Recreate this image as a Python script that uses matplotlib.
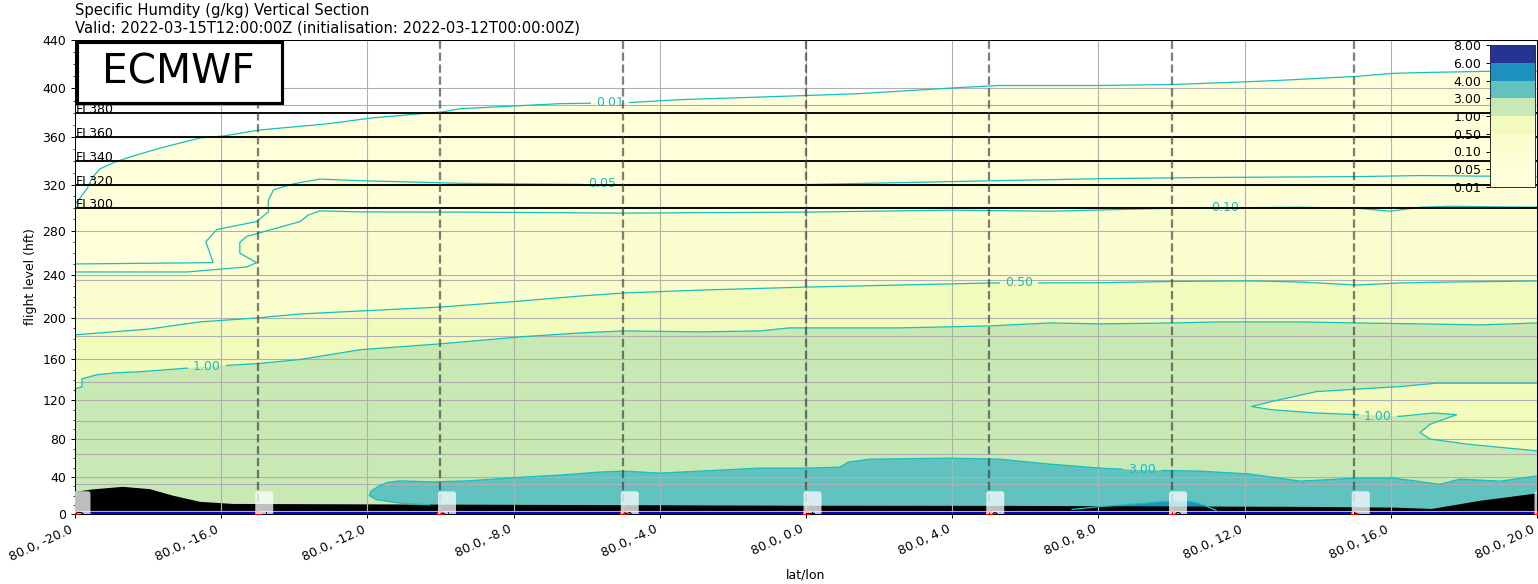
import numpy as np
import matplotlib
matplotlib.use("Agg")
import matplotlib.pyplot as plt
import matplotlib.colors as mcolors
import matplotlib.cm as cm
import matplotlib.transforms as mtransforms
from matplotlib.path import Path
from matplotlib.patches import Rectangle
from matplotlib.ticker import MultipleLocator

# section along 80N, humidity contours as (lon, flight level) boundaries
section_lat = 80.0
levels = [0.01, 0.05, 0.1, 0.5, 1.0, 3.0, 4.0, 6.0, 8.0]

q001_lon = [-20, -19.95, -19.67, -19.53, -19.32, -18.9, -18.41, -17.67, -16.58, -15.95, -14.94, -13.11,
            -11.85, -9.93, -9.47, -8.37, -6.73, -4.9, -3.45, 0.0, 1.48, 4.21, 5.31, 8.04, 10.04, 11.6,
            12.97, 15.07, 16.06, 17.07, 18.71, 20]
q001_fl = [303, 304.7, 316.6, 325.8, 333.3, 339.2, 344.2, 350.8, 359.2, 360.8, 365.8, 370.8,
           375.8, 380.8, 383.3, 385, 387.5, 388.3, 390.8, 394.2, 395.8, 400.8, 402.5, 402.5, 403.3, 405,
           406.7, 410, 412.5, 413.3, 414.2, 414.2]

q005_lon = [-20, -16.22, -16.42, -16.12, -15.03, -14.71, -14.71, -14.57, -14.03, -13.3, -12.2, -9.47,
            -5.64, 0.0, 5.31, 8.04, 10.78, 15.07, 16.8, 20]
q005_fl = [250, 251.2, 270, 280.9, 287.9, 296.4, 306.4, 315.5, 320.6, 324.7, 323.3, 321.1,
           320, 320, 323.4, 325, 326, 326.8, 327.7, 326.8]

q01_lon = [-20, -16.94, -15.3, -15.03, -15.49, -15.49, -15.3, -13.84, -13.62, -13.3, -12.2, -9.47,
           -5.0, 0.0, 3.94, 6.68, 10.04, 13.52, 15.07, 15.98, 16.8, 17.62, 20]
q01_fl = [242.7, 242.7, 247.3, 251.2, 259.7, 269.4, 274.8, 287.9, 293.6, 297.3, 296.4, 296.2,
          295.3, 296.2, 297.9, 297.0, 299.6, 300.4, 299.6, 297.0, 300.4, 301.3, 300.4]

q05_lon = [-20, -17.95, -16.58, -15.0, -13.84, -12.2, -10.0, -7.82, -6.18, -5.0, -2.9, 0.0, 2.57,
           5.06, 8.04, 10.04, 12.15, 13.52, 15.07, 16.25, 17.62, 20]
q05_fl = [183.8, 189.5, 196.2, 200, 203.7, 206.5, 210.2, 215.8, 220.5, 223.3, 226, 228.8, 230.7,
          232.6, 232.8, 234, 234.5, 233.5, 230.7, 232.6, 233.5, 234.4]

q1_lon = [-20, -19.81, -19.81, -19.4, -18.85, -18.22, -17.13, -16.4, -15.0, -13.84, -12.2, -10.0,
          -7.82, -6.18, -5.0, -2.9, -1.26, -0.46, 2.57, 5.06, 6.68, 8.04, 10.04, 11.33, 13.52,
          15.07, 16.8, 18.44, 20]
q1_fl = [131, 133, 141, 145, 147, 148, 151, 153, 156, 160, 169.5, 175.2,
         181.9, 185.7, 187.6, 186.7, 187.6, 190.5, 190.5, 192.4, 195.2, 194.3, 195.2, 196.2, 196.2,
         195.2, 194.3, 193.3, 195.2]

# drier tongue (< 1 g/kg) at the east end, upper edge then lower edge
tongue_lon = [20, 17.26, 16.25, 13.97, 12.74, 12.19, 12.74, 13.97, 15.07, 16.25, 17.16, 17.8,
              17.07, 16.8, 17.07, 18.08, 18.99, 20]
tongue_fl = [136.7, 136.7, 133.3, 128.3, 118.3, 113.3, 110, 106.7, 105, 103.3, 106.7, 105,
             95, 86.7, 80, 74.7, 71.3, 67.7]

q3_lon = [-10.3, -11.11, -11.75, -11.95, -11.9, -11.7, -11.47, -11.11, -10.2, -9.28, -7.82, -6.73,
          -5.64, -4.98, -4.0, -2.9, -1.26, 0.03, 0.93, 1.15, 1.75, 3.94, 5.31, 6.68, 8.04, 9.14,
          10.78, 12.15, 13.52, 15.07, 16.06, 16.71, 17.34, 17.89, 18.99, 20]
q3_fl = [10, 11.9, 15.6, 20, 25, 30, 34.1, 35.9, 34.8, 35.9, 39.7, 42.1,
         45.3, 46.3, 44.2, 46.3, 49.5, 49.5, 50.5, 55.8, 58.9, 60, 58.9, 53.7, 49.5, 47.4,
         46.3, 43.2, 35.6, 38.9, 38.9, 35.6, 32.2, 37.8, 35.6, 41.1]

q4_lon = [7.28, 8.0, 9.06, 9.82, 10.37, 10.67, 10.94, 11.22]
q4_fl = [5, 8, 11.1, 13.8, 14.4, 12.7, 8.9, 3.9]

terrain_lon = [-20, -19.53, -18.69, -17.95, -17.32, -16.58, -15.68, -7.82, 0.0, 5.31, 13.52,
               16.11, 17.12, 18.44, 19.92, 20]
terrain_fl = [24, 26.7, 29.5, 27, 20, 13.3, 11, 10, 9, 8.9, 7.8, 7.0, 5.5, 14.4, 22, 22.5]

# contour labels: text, lon, flight level
clabel_text = ["0.01", "0.05", "0.10", "0.50", "1.00", "1.00", "3.00"]
clabel_lon = [-5.36, -5.58, 11.46, 5.84, -16.39, 15.65, 9.19]
clabel_fl = [388.7, 320.5, 299.8, 233, 153, 103.5, 48.4]

# route and waypoints
wp_lon = [-20, -15, -10, -5, 0, 5, 10, 15, 20]
wp_name = ["0", "1", "2", "3", "4", "5", "6", "7", "8"]
route_fl = [1, 1, 1, 1, 1, 1, 1, 1, 1]

fl_lines = [300, 320, 340, 360, 380]
pressure_grid = [1000, 900, 800, 700, 600, 500, 400, 300, 200]
lon_ticks = [-20, -16, -12, -8, -4, 0, 4, 8, 12, 16, 20]
fl_ticks = [0, 40, 80, 120, 160, 200, 240, 280, 320, 360, 400, 440]

line_col = "#17bfbf"


def fl_to_p(fl):
    """ISA pressure (hPa) for a flight level"""
    h = np.asarray(fl, dtype=float) * 30.48
    with np.errstate(invalid="ignore", over="ignore", divide="ignore"):
        tropo = 1013.25 * np.clip(1 - 2.25577e-5 * h, 1e-9, None) ** 5.25588
        strato = 226.32 * np.exp(-(h - 11000.0) / 6341.6)
    return np.where(h < 11000.0, tropo, strato)


def p_to_fl(p):
    p = np.asarray(p, dtype=float)
    with np.errstate(invalid="ignore", over="ignore", divide="ignore"):
        tropo = (1 - (p / 1013.25) ** (1 / 5.25588)) / 2.25577e-5
        strato = 11000.0 - 6341.6 * np.log(p / 226.32)
    return np.where(p > 226.32, tropo, strato) / 30.48


def fwd(fl):
    return -np.log(fl_to_p(fl))


def inv(v):
    return p_to_fl(np.exp(-np.asarray(v, dtype=float)))


fig = plt.figure(figsize=(1538 / 90, 584 / 90), dpi=90)
ax = fig.add_axes([75 / 1538, 1 - 514 / 584, 1462 / 1538, 474 / 584])
ax.set_yscale("function", functions=(fwd, inv))
ax.set_xlim(-20, 20)
ax.set_ylim(0, 440)

# band colours as contourf would pick them
mids = [(a + b) / 2 for a, b in zip(levels[:-1], levels[1:])]
band_col = plt.get_cmap("YlGnBu")(mcolors.Normalize(levels[0], levels[-1])(mids))


def fill_below(lon, fl, color):
    ax.fill(list(lon) + [lon[-1], lon[0]], list(fl) + [0, 0], color=color, lw=0, zorder=1)


fill_below(q001_lon, q001_fl, band_col[0])
fill_below(q005_lon, q005_fl, band_col[1])
fill_below(q01_lon, q01_fl, band_col[2])
fill_below(q05_lon, q05_fl, band_col[3])
fill_below(q1_lon, q1_fl, band_col[4])
ax.fill(tongue_lon, tongue_fl, color=band_col[3], lw=0, zorder=1)
fill_below(q3_lon, q3_fl, band_col[5])
fill_below(q4_lon, q4_fl, band_col[6])
fill_below(terrain_lon, terrain_fl, "black")

# contour lines
lines = {}
for key, lon, fl in [("0.01", q001_lon, q001_fl), ("0.05", q005_lon, q005_fl), ("0.10", q01_lon, q01_fl),
                     ("0.50", q05_lon, q05_fl), ("1.00a", q1_lon, q1_fl), ("1.00b", tongue_lon, tongue_fl),
                     ("3.00", q3_lon, q3_fl), ("4.00", q4_lon, q4_fl)]:
    lines[key], = ax.plot(lon, fl, color=line_col, lw=1.0, zorder=2)

label_lines = [lines["0.01"], lines["0.05"], lines["0.10"], lines["0.50"], lines["1.00a"],
               lines["1.00b"], lines["3.00"]]
label_texts = []
for txt, lon, fl in zip(clabel_text, clabel_lon, clabel_fl):
    label_texts.append(ax.text(lon, fl, txt, color=line_col, fontsize=10, ha="center", va="center", zorder=3))

# grid: lat/lon and FL ticks plus pressure levels
ax.grid(True, color="#b0b0b0", lw=0.9)
for p in pressure_grid:
    ax.axhline(float(p_to_fl(p)), color="#b0b0b0", lw=0.9, zorder=1.5)

# reference flight levels
for fl in fl_lines:
    ax.axhline(fl, color="black", lw=1.5, zorder=4)
    ax.text(-19.98, fl, "FL%d" % fl, fontsize=10, zorder=4)

# waypoints
for lon in wp_lon[1:-1]:
    ax.axvline(lon, color="#3a3a3a", alpha=0.65, lw=1.8, ls="--", zorder=4)
ax.plot(wp_lon, route_fl, color="blue", lw=2, zorder=4.5)
ax.plot(wp_lon, [0] * len(wp_lon), "o", color="red", ms=5, zorder=4.6)
for lon, name in zip(wp_lon, wp_name):
    ax.annotate(name + "    ", xy=(lon, 0), xytext=(0, -3), textcoords="offset points",
                rotation=90, ha="left", va="bottom", fontsize=10, zorder=5, clip_on=True,
                bbox=dict(boxstyle="round,pad=0.2", fc="white", ec="none", alpha=0.75))

ax.set_xticks(lon_ticks)
ax.set_xticklabels(["%.1f, %.1f" % (section_lat, v) for v in lon_ticks], rotation=25, ha="right")
ax.set_yticks(fl_ticks)
ax.set_yticklabels([str(v) for v in fl_ticks])
ax.yaxis.set_minor_locator(MultipleLocator(10))
ax.set_xlabel("lat/lon")
ax.set_ylabel("flight level (hft)")
ax.set_title("Specific Humdity (g/kg) Vertical Section\n"
             "Valid: 2022-03-15T12:00:00Z (initialisation: 2022-03-12T00:00:00Z)",
             loc="left", fontsize=11.8)

# model name box
ax.add_patch(Rectangle((0.0011, 0.8677), 0.1402, 0.1287, transform=ax.transAxes,
                       fc="white", ec="black", lw=2.5, zorder=7))
ax.text(0.071, 0.931, "ECMWF", transform=ax.transAxes, fontsize=32.5,
        ha="center", va="center", zorder=8)

# colour bar
cax = fig.add_axes([1490 / 1538, 1 - 187 / 584, 45 / 1538, 142 / 584])
cmap_bands = mcolors.ListedColormap(band_col)
norm_bands = mcolors.BoundaryNorm(levels, cmap_bands.N)
cb = fig.colorbar(cm.ScalarMappable(norm=norm_bands, cmap=cmap_bands), cax=cax,
                  spacing="uniform", ticks=levels, format="%.2f")
cax.yaxis.set_ticks_position("left")
cb.outline.set_edgecolor("#333333")

# cut a gap in each labelled contour line
fig.canvas.draw()
renderer = fig.canvas.get_renderer()
box = ax.bbox
for line, t in zip(label_lines, label_texts):
    bb = t.get_window_extent(renderer)
    x0, y0, x1, y1 = bb.x0 - 5, bb.y0 - 2, bb.x1 + 5, bb.y1 + 2
    verts = [(box.x0, box.y0), (box.x1, box.y0), (box.x1, box.y1), (box.x0, box.y1), (box.x0, box.y0),
             (x0, y0), (x0, y1), (x1, y1), (x1, y0), (x0, y0)]
    codes = [Path.MOVETO, Path.LINETO, Path.LINETO, Path.LINETO, Path.CLOSEPOLY] * 2
    line.set_clip_path(Path(verts, codes), mtransforms.IdentityTransform())

fig.savefig("out.png", dpi=90)
